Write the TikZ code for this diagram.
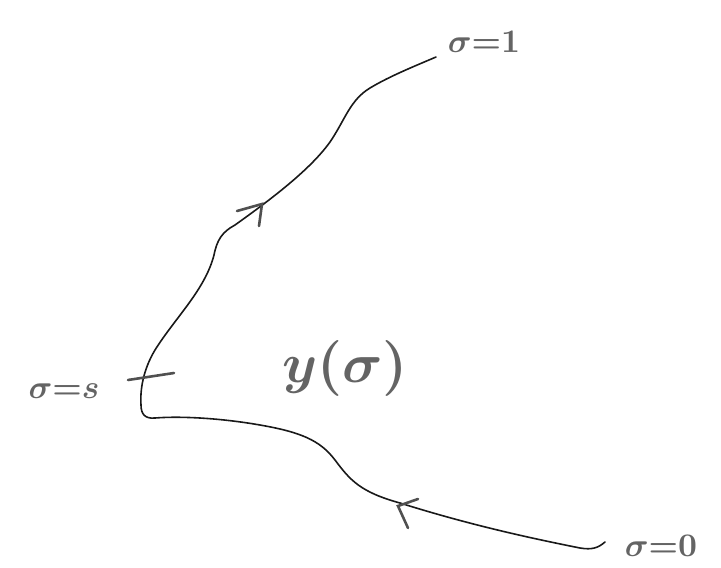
\documentclass[tikz,border=0pt]{standalone}
\usetikzlibrary{arrows.meta}
\definecolor{ink}{RGB}{25,25,25}
\definecolor{pencil}{RGB}{100,100,100}
\tikzset{
  curveline/.style={draw=ink, line width=1.6pt, line cap=round, line join=round},
  chev/.style={draw=pencil!80!black, line width=2.6pt, line cap=round},
  lbl/.style={text=pencil, inner sep=0pt, font=\boldmath},
}
\begin{document}
\begin{tikzpicture}[x=1pt,y=-1pt]
\useasboundingbox (0,0) rectangle (721,568);
% labels
\node[lbl, scale=3.3] (s) at (64,391) {$\sigma{=}s$};
\node[lbl, scale=3.3] (one) at (484,42) {$\sigma{=}1$};
\node[lbl, scale=3.3] (zero) at (661,546) {$\sigma{=}0$};
\node[lbl, scale=5.6] (y) at (345,368) {$y(\sigma)$};
% curve points
\coordinate (p0) at (605,542);
\coordinate (corner) at (144,416);
\coordinate (p1) at (436,57);
\draw[curveline] (p0) .. controls (598,548) and (592,550) .. (580,548)
  .. controls (530,538) and (470,525) .. (400,503)
  .. controls (360,492) and (350,480) .. (335,460)
  .. controls (320,440) and (300,432) .. (260,425)
  .. controls (220,418) and (180,416) .. (155,418)
  .. controls (145,419) and (141,414) .. (141,405)
  .. controls (140,390) and (143,370) .. (155,350)
  .. controls (175,318) and (205,290) .. (214,255)
  .. controls (217,240) and (222,232) .. (235,225)
  .. controls (270,200) and (310,170) .. (330,142)
  .. controls (345,120) and (350,100) .. (370,88)
  .. controls (390,76) and (415,66) .. (p1);
% tick at sigma = s
\coordinate (t1) at (128,380);
\coordinate (t2) at (174,373);
\draw[chev] (t1) -- (t2);
% direction chevrons
\coordinate (ua) at (262,204);
\draw[chev] (237,211) -- (ua) -- (259,226);
\coordinate (la) at (398,506);
\draw[chev] (418,499) -- (la) -- (408,528);
\end{tikzpicture}
\end{document}
